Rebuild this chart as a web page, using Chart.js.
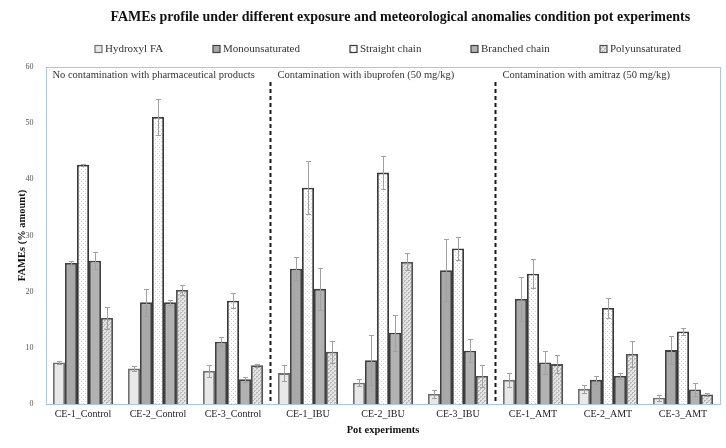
<!DOCTYPE html>
<html>
<head>
<meta charset="utf-8">
<script src="https://cdn.jsdelivr.net/npm/chart.js@4"></script>
<style>
  html, body { margin: 0; padding: 0; background: #fff; }
  #chart { display: block; }
</style>
</head>
<body>
<canvas id="chart" width="726" height="448"></canvas>
<script>
// categories and values
const categories = ["CE-1_Control", "CE-2_Control", "CE-3_Control",
                    "CE-1_IBU", "CE-2_IBU", "CE-3_IBU",
                    "CE-1_AMT", "CE-2_AMT", "CE-3_AMT"];
const seriesNames = ["Hydroxyl FA", "Monounsaturated", "Straight chain", "Branched chain", "Polyunsaturated"];

const hydroxylFA      = [7.4, 6.3, 5.9, 5.5, 3.8, 1.8, 4.3, 2.7, 1.1];
const monounsaturated = [25.1, 18.1, 11.1, 24.1, 7.8, 23.8, 18.7, 4.3, 9.6];
const straightChain   = [42.6, 51.1, 18.4, 38.5, 41.2, 27.7, 23.2, 17.1, 12.9];
const branchedChain   = [25.5, 18.1, 4.4, 20.5, 12.7, 9.5, 7.4, 5.0, 2.6];
const polyunsaturated = [15.3, 20.3, 6.9, 9.3, 25.3, 5.0, 7.1, 8.9, 1.7];

// standard deviations (error bars)
const hydroxylErr = [0.2, 0.4, 1.1, 1.4, 0.6, 0.7, 1.2, 0.7, 0.5];
const monoErr     = [0.3, 2.4, 0.8, 2.1, 4.4, 5.5, 3.9, 0.7, 2.5];
const straightErr = [0.2, 3.2, 1.3, 4.7, 3.0, 2.0, 2.6, 1.7, 0.7];
const branchedErr = [1.5, 0.5, 0.4, 3.7, 3.2, 2.0, 2.0, 0.6, 1.1];
const polyErr     = [2.0, 0.9, 0.3, 2.0, 1.5, 1.9, 1.6, 2.3, 0.2];

const yMin = 0, yMax = 60, yStep = 10;

const groupLabels = ["No contamination with pharmaceutical products",
                     "Contamination with ibuprofen (50 mg/kg)",
                     "Contamination with amitraz (50 mg/kg)"];
const groupStarts = [0, 3, 6];

const SERIF = '"Liberation Serif", "Times New Roman", serif';
Chart.defaults.font.family = SERIF;

function makePattern(bg, fg, cells) {
  const c = document.createElement("canvas");
  c.width = 4; c.height = 4;
  const g = c.getContext("2d");
  g.fillStyle = bg;
  g.fillRect(0, 0, 4, 4);
  g.fillStyle = fg;
  cells.forEach(p => g.fillRect(p[0], p[1], 1, 1));
  return g.createPattern(c, "repeat");
}
const ctx = document.getElementById("chart").getContext("2d");
const dotPattern = makePattern("#ffffff", "#cfcfcf", [[1, 1], [3, 3]]);
const checkPattern = makePattern("#e6e6e6", "#b8b8b8", [[0, 0], [1, 0], [0, 1], [2, 2], [3, 2], [2, 3]]);

const seriesValues = [hydroxylFA, monounsaturated, straightChain, branchedChain, polyunsaturated];
const seriesErrors = [hydroxylErr, monoErr, straightErr, branchedErr, polyErr];
const fills = ["#e8e8e8", "#a9a9a9", dotPattern, "#b2b2b2", checkPattern];
const borders = ["#707070", "#404040", "#383838", "#404040", "#505050"];

const datasets = seriesNames.map((name, i) => ({
  label: name,
  data: seriesValues[i],
  errors: seriesErrors[i],
  backgroundColor: fills[i],
  borderColor: borders[i],
  borderWidth: 1.8,
  inflateAmount: 0,
  categoryPercentage: 0.8,
  barPercentage: 1.0
}));

const decorPlugin = {
  id: "decor",
  afterLayout(chart) {
    // title sits a bit right of the canvas centre in the reference
    chart.titleBlock.left += 40;
    chart.titleBlock.right += 40;
  },
  beforeDatasetsDraw(chart) {
    const { ctx, chartArea: a, scales: { x } } = chart;
    ctx.save();
    ctx.strokeStyle = "#a9c6e6";
    ctx.lineWidth = 1;
    const l = Math.round(a.left) + 0.5, r = Math.round(a.right) - 0.5;
    ctx.strokeRect(l, Math.round(a.top) + 0.5, r - l, a.bottom - a.top);

    // dashed separators between the groups
    ctx.strokeStyle = "#1a1a1a";
    ctx.lineWidth = 2;
    ctx.setLineDash([4, 3]);
    groupStarts.slice(1).forEach(idx => {
      const bx = (x.getPixelForValue(idx - 1) + x.getPixelForValue(idx)) / 2;
      ctx.beginPath();
      ctx.moveTo(bx, a.top + 15);
      ctx.lineTo(bx, a.bottom);
      ctx.stroke();
    });
    ctx.setLineDash([]);

    // group captions
    ctx.fillStyle = "#333";
    ctx.font = "10.5px " + SERIF;
    ctx.textBaseline = "middle";
    ctx.textAlign = "left";
    groupStarts.forEach((idx, g) => {
      const bx = idx === 0 ? a.left : (x.getPixelForValue(idx - 1) + x.getPixelForValue(idx)) / 2;
      ctx.fillText(groupLabels[g], bx + 7, a.top + 8);
    });
    ctx.restore();
  },
  afterDatasetsDraw(chart) {
    const { ctx, scales: { y } } = chart;
    ctx.save();
    ctx.strokeStyle = "#a0a0a0";
    ctx.lineWidth = 1;
    chart.data.datasets.forEach((ds, di) => {
      const meta = chart.getDatasetMeta(di);
      meta.data.forEach((bar, i) => {
        const v = ds.data[i], e = ds.errors[i];
        const yt = Math.round(y.getPixelForValue(v + e)) + 0.5;
        const yb = Math.round(y.getPixelForValue(Math.max(0, v - e))) + 0.5;
        const bx = Math.round(bar.x) + 0.5;
        ctx.beginPath();
        ctx.moveTo(bx, yt); ctx.lineTo(bx, yb);
        ctx.moveTo(bx - 2.5, yt); ctx.lineTo(bx + 2.5, yt);
        ctx.moveTo(bx - 2.5, yb); ctx.lineTo(bx + 2.5, yb);
        ctx.stroke();
      });
    });
    ctx.restore();
  },
  afterDraw(chart) {
    // legend row
    const { ctx } = chart;
    ctx.save();
    ctx.font = "11px " + SERIF;
    ctx.textBaseline = "middle";
    const box = 7, gapText = 3, gapItem = 50;
    const widths = seriesNames.map(n => box + gapText + ctx.measureText(n).width);
    const total = widths.reduce((s, w) => s + w, 0) + gapItem * (widths.length - 1);
    let lx = Math.round(388 - total / 2);
    const ly = 49;
    chart.data.datasets.forEach((ds, i) => {
      ctx.fillStyle = ds.backgroundColor;
      ctx.fillRect(lx, ly - box / 2, box, box);
      ctx.strokeStyle = ds.borderColor;
      ctx.lineWidth = 1.2;
      ctx.strokeRect(lx, ly - box / 2, box, box);
      ctx.fillStyle = "#333";
      ctx.fillText(ds.label, lx + box + gapText, ly + 0.5);
      lx = Math.round(lx + widths[i] + gapItem);
    });
    ctx.restore();
  }
};

new Chart(ctx, {
  type: "bar",
  data: { labels: categories, datasets: datasets },
  options: {
    responsive: false,
    animation: false,
    devicePixelRatio: 1,
    layout: { padding: { left: 0, right: 5.5, top: 0, bottom: 0 } },
    plugins: {
      legend: { display: false },
      tooltip: { enabled: false },
      title: {
        display: true,
        text: "FAMEs profile under different exposure and meteorological anomalies condition pot experiments",
        color: "#111",
        font: { size: 14, weight: "bold", family: SERIF },
        padding: { top: 9, bottom: 41.2 }
      }
    },
    scales: {
      x: {
        grid: { display: false, drawTicks: false },
        border: { display: false },
        ticks: { color: "#222", font: { size: 10 }, padding: 4, maxRotation: 0, autoSkip: false },
        title: {
          display: true,
          text: "Pot experiments",
          color: "#111",
          font: { size: 10.5, weight: "bold" },
          padding: { top: 0, bottom: 11 }
        },
        afterFit: s => { s.height = 44; }
      },
      y: {
        min: yMin,
        max: yMax,
        grid: { display: false, drawTicks: false },
        border: { display: false },
        ticks: { stepSize: yStep, color: "#555", font: { size: 8 }, padding: 12 },
        title: {
          display: true,
          text: "FAMEs (% amount)",
          color: "#111",
          font: { size: 10.5, weight: "bold" },
          padding: { top: 16, bottom: 0 }
        },
        afterFit: s => { s.width = 45.5; }
      }
    }
  },
  plugins: [decorPlugin]
});
</script>
</body>
</html>
